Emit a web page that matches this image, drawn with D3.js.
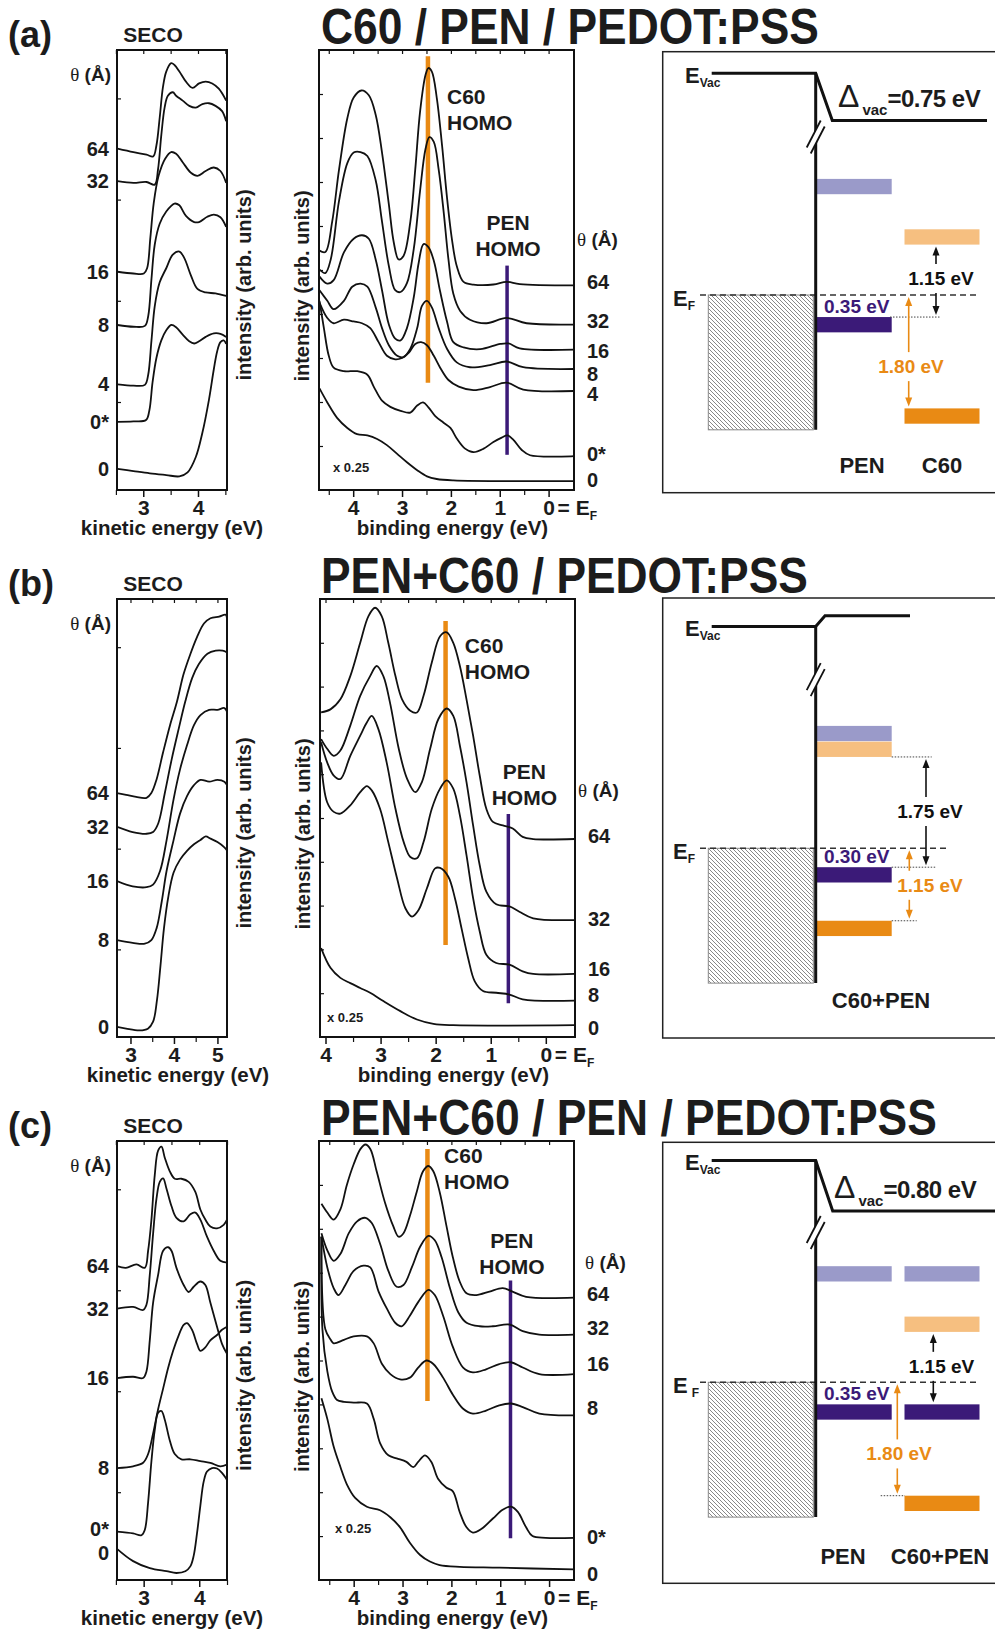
<!DOCTYPE html>
<html>
<head>
<meta charset="utf-8">
<title>SECO / UPS spectra and energy level diagrams</title>
<script src="https://cdn.jsdelivr.net/npm/d3@7/dist/d3.min.js"></script>
<style>
  body { margin: 0; background: #fff; }
  svg text { font-family: "Liberation Sans", Arial, Helvetica, sans-serif; font-weight: bold; fill: #1c1c1c; }
</style>
</head>
<body>
<script>
// ---------------- row (a): C60 / PEN / PEDOT:PSS ----------------
const thickA = ["64", "32", "16", "8", "4", "0*", "0"];
// SECO: [kinetic energy (eV), intensity (arb.)]
const secoA = [
  [[2.53,77.6],[2.82,76.8],[3.06,76.2],[3.18,75.8],[3.24,78.3],[3.30,84.6],[3.36,91.6],[3.42,95.1],[3.51,97.0],[3.57,96.6],[3.66,95.1],[3.78,92.8],[3.90,91.4],[4.02,92.4],[4.14,92.8],[4.26,92.4],[4.38,91.2],[4.515,88.5]],
  [[2.53,70.2],[2.82,69.8],[3.06,70.0],[3.21,69.4],[3.27,72.9],[3.33,80.7],[3.39,86.9],[3.45,89.6],[3.54,90.4],[3.60,89.6],[3.72,88.5],[3.84,87.3],[3.96,86.9],[4.08,87.7],[4.20,87.9],[4.32,87.3],[4.44,86.1],[4.515,83.8]],
  [[2.53,49.6],[2.82,49.2],[3.01,49.2],[3.07,50.4],[3.13,57.4],[3.19,65.1],[3.28,71.4],[3.40,75.3],[3.51,76.8],[3.60,76.4],[3.72,74.5],[3.87,72.1],[3.99,71.4],[4.14,72.5],[4.29,73.3],[4.41,72.5],[4.515,69.8]],
  [[2.53,37.5],[2.82,37.1],[3.03,37.3],[3.09,39.5],[3.15,48.0],[3.21,55.8],[3.30,60.5],[3.42,63.3],[3.57,65.1],[3.66,64.7],[3.78,62.3],[3.93,60.9],[4.02,60.9],[4.17,62.1],[4.29,62.6],[4.41,62.0],[4.515,59.8]],
  [[2.53,24.0],[2.82,23.7],[3.03,23.9],[3.09,26.2],[3.15,34.0],[3.21,41.8],[3.30,47.2],[3.42,50.4],[3.54,53.5],[3.66,54.2],[3.75,52.7],[3.87,48.8],[3.99,45.7],[4.14,44.9],[4.32,44.7],[4.515,44.1]],
  [[2.53,15.5],[2.82,15.6],[3.05,15.9],[3.11,18.0],[3.17,24.5],[3.24,30.0],[3.33,34.0],[3.42,36.3],[3.51,37.5],[3.60,37.0],[3.72,35.3],[3.84,33.8],[3.93,33.3],[4.02,33.8],[4.14,34.8],[4.29,35.6],[4.41,35.5],[4.515,34.8]],
  [[2.53,4.8],[2.82,4.3],[3.12,3.8],[3.42,3.4],[3.66,3.1],[3.81,4.0],[3.96,7.5],[4.08,13.0],[4.20,20.5],[4.29,27.5],[4.35,31.5],[4.41,33.6],[4.47,34.0],[4.515,33.2]]
];
// UPS: [binding energy (eV), intensity (arb.)]
const upsA = [
  [[4.69,54.4],[4.57,54.1],[4.43,61.0],[4.29,72.8],[4.12,84.5],[3.99,89.2],[3.83,90.8],[3.68,89.7],[3.54,85.3],[3.41,76.7],[3.27,64.9],[3.17,56.3],[3.07,52.4],[2.97,53.2],[2.83,61.0],[2.73,72.8],[2.63,86.1],[2.52,94.3],[2.46,95.9],[2.39,95.1],[2.29,89.2],[2.18,78.2],[2.08,66.5],[1.98,57.1],[1.88,50.9],[1.74,47.3],[1.54,46.7],[1.13,46.7],[0.86,47.3],[0.59,46.8],[-0.52,46.5]],
  [[4.69,50.1],[4.57,49.3],[4.46,52.4],[4.29,65.7],[4.12,74.3],[3.99,76.7],[3.85,76.8],[3.71,75.9],[3.54,70.4],[3.41,61.0],[3.27,50.9],[3.14,45.4],[3.03,45.0],[2.90,47.0],[2.76,54.8],[2.63,68.1],[2.52,77.5],[2.44,80.2],[2.35,79.1],[2.25,72.8],[2.15,63.4],[2.05,52.4],[1.95,44.6],[1.81,40.7],[1.61,38.7],[1.27,37.9],[0.86,39.1],[0.45,37.9],[-0.52,37.6]],
  [[4.69,48.5],[4.53,46.9],[4.40,47.7],[4.19,54.0],[3.99,57.1],[3.82,57.9],[3.68,57.1],[3.54,52.4],[3.41,45.4],[3.27,37.6],[3.14,34.4],[3.03,34.0],[2.90,36.8],[2.76,43.8],[2.66,51.6],[2.56,55.9],[2.46,55.2],[2.35,52.1],[2.22,45.1],[2.08,38.3],[1.95,33.6],[1.74,32.4],[1.40,32.0],[0.99,33.2],[0.82,33.3],[0.59,32.2],[-0.52,31.9]],
  [[4.69,45.4],[4.53,43.0],[4.40,41.1],[4.19,43.0],[4.02,46.2],[3.85,46.9],[3.71,46.2],[3.54,41.5],[3.41,36.8],[3.27,32.9],[3.10,30.5],[2.97,30.2],[2.83,32.1],[2.69,36.8],[2.59,41.9],[2.49,43.0],[2.39,41.5],[2.25,36.8],[2.08,32.1],[1.88,29.0],[1.61,27.9],[1.20,28.4],[0.86,29.2],[0.52,27.9],[-0.52,27.5]],
  [[4.69,42.6],[4.53,39.1],[4.40,37.9],[4.19,38.7],[3.99,38.3],[3.82,37.9],[3.65,36.8],[3.48,33.6],[3.31,30.5],[3.14,29.7],[3.00,30.0],[2.86,31.2],[2.73,33.2],[2.61,33.6],[2.49,32.9],[2.35,30.5],[2.22,27.8],[2.05,25.0],[1.84,23.5],[1.54,22.7],[1.20,23.4],[0.86,24.4],[0.52,22.8],[-0.52,22.5]],
  [[4.69,43.0],[4.60,36.8],[4.50,30.5],[4.40,27.8],[4.19,27.0],[3.92,27.0],[3.71,26.2],[3.58,23.5],[3.41,20.3],[3.24,18.9],[3.03,18.0],[2.83,17.6],[2.69,19.2],[2.57,19.9],[2.46,18.8],[2.32,16.8],[2.15,15.3],[2.01,14.1],[1.88,11.7],[1.71,9.4],[1.54,8.6],[1.33,9.4],[1.13,10.9],[0.96,11.9],[0.84,12.4],[0.72,11.4],[0.55,9.1],[0.38,7.9],[-0.52,7.7]],
  [[4.69,23.1],[4.53,19.9],[4.33,16.4],[4.12,14.1],[3.92,12.7],[3.71,12.4],[3.51,11.6],[3.31,10.2],[3.10,8.2],[2.90,6.3],[2.69,4.5],[2.49,3.1],[2.29,2.5],[1.95,2.2],[-0.52,2.0]]
];
const upsLabelA = [47.3, 38.3, 31.7, 26.4, 21.9, 8.2, 2.3];
const c60HomoA = [2.47, 24.4, 98.6];   // energy, from, to
const penHomoA = [0.85, 8.0, 51.0];
// energy diagram: [level, column, energy vs E_F (eV)]
const levelsA = [["PEN LUMO", 0, 1.60], ["PEN HOMO", 0, -0.35], ["C60 LUMO", 1, 0.80], ["C60 HOMO", 1, -1.80]];
const vacA = [3.52, 2.77];                         // left / right vacuum level (axis broken)
const gapsA = [[0.80, -0.35, 1.15], [0.00, -1.80, 1.80]]; // from, to, value

// ---------------- row (b): PEN+C60 / PEDOT:PSS ----------------
const thickB = ["64", "32", "16", "8", "0"];
const secoB = [
  [[2.69,55.7],[2.90,55.3],[3.13,54.8],[3.37,54.6],[3.48,55.7],[3.60,58.8],[3.75,65.0],[3.91,71.2],[4.07,76.6],[4.22,82.8],[4.38,87.5],[4.53,91.3],[4.69,94.4],[4.84,95.6],[5.04,96.0],[5.19,96.4],[5.22,95.2]],
  [[2.69,48.0],[3.05,46.8],[3.37,46.4],[3.52,46.8],[3.64,48.8],[3.79,55.7],[3.95,63.5],[4.11,70.4],[4.26,76.6],[4.42,82.0],[4.57,85.1],[4.77,87.5],[4.96,88.2],[5.12,88.2],[5.22,87.8]],
  [[2.69,35.6],[3.05,34.4],[3.37,34.2],[3.52,34.8],[3.68,37.9],[3.83,44.9],[3.99,54.2],[4.14,61.1],[4.30,66.6],[4.46,71.2],[4.61,73.5],[4.81,74.7],[5.00,74.7],[5.16,75.1],[5.22,74.3]],
  [[2.69,22.1],[3.05,21.5],[3.33,21.3],[3.48,22.1],[3.60,24.8],[3.72,31.0],[3.83,37.9],[3.99,44.9],[4.14,51.0],[4.30,55.0],[4.46,57.5],[4.61,58.7],[4.81,58.3],[5.00,58.7],[5.16,58.3],[5.22,57.5]],
  [[2.69,2.3],[2.90,1.9],[3.21,1.5],[3.40,1.9],[3.52,3.5],[3.61,8.5],[3.69,16.3],[3.77,24.8],[3.87,32.0],[3.99,37.5],[4.14,40.5],[4.30,42.5],[4.46,44.0],[4.61,45.0],[4.73,45.8],[4.84,45.3],[5.00,44.5],[5.16,43.3],[5.22,42.6]]
];
const upsB = [
  [[4.08,74.1],[3.91,74.8],[3.73,77.1],[3.55,82.4],[3.37,90.0],[3.22,96.1],[3.10,98.0],[2.98,96.1],[2.86,90.0],[2.73,82.4],[2.61,77.1],[2.46,74.5],[2.34,74.1],[2.22,77.9],[2.07,85.5],[1.92,91.5],[1.80,92.4],[1.68,90.0],[1.56,84.7],[1.44,77.1],[1.32,68.8],[1.20,59.7],[1.08,52.1],[0.96,49.1],[0.78,48.3],[0.60,47.6],[0.42,45.7],[0.23,45.2],[-0.52,45.2]],
  [[4.08,68.0],[3.97,65.8],[3.85,64.2],[3.73,65.4],[3.55,71.1],[3.37,77.9],[3.19,82.4],[3.07,84.7],[2.95,82.4],[2.83,76.4],[2.67,65.8],[2.52,59.0],[2.37,55.9],[2.25,58.2],[2.10,65.8],[1.95,72.6],[1.80,75.0],[1.68,73.3],[1.56,66.5],[1.44,58.2],[1.32,48.3],[1.20,39.2],[1.08,33.2],[0.90,30.3],[0.66,29.8],[0.48,28.6],[0.23,27.1],[-0.52,26.7]],
  [[4.08,67.3],[3.97,62.7],[3.85,59.7],[3.73,58.9],[3.55,64.2],[3.37,68.8],[3.25,71.8],[3.16,73.3],[3.04,70.3],[2.89,62.7],[2.73,52.1],[2.58,44.5],[2.46,41.1],[2.34,40.8],[2.22,44.5],[2.07,52.1],[1.92,56.7],[1.80,58.6],[1.68,56.7],[1.56,50.6],[1.44,41.5],[1.32,31.7],[1.20,24.1],[1.08,18.8],[0.90,16.9],[0.66,16.5],[0.42,15.0],[0.23,14.4],[-0.52,14.4]],
  [[4.08,62.7],[3.97,53.6],[3.85,51.4],[3.73,51.0],[3.55,52.9],[3.37,55.9],[3.25,57.3],[3.16,56.3],[3.01,52.1],[2.86,44.5],[2.70,36.2],[2.55,29.4],[2.43,27.5],[2.31,29.0],[2.16,33.9],[2.01,38.5],[1.92,38.6],[1.77,36.6],[1.65,31.7],[1.53,24.8],[1.41,18.0],[1.29,12.7],[1.14,10.5],[0.90,10.1],[0.66,9.7],[0.42,8.6],[-0.52,8.3]],
  [[4.08,20.3],[3.91,15.8],[3.73,13.5],[3.55,12.3],[3.37,11.2],[3.19,10.1],[2.95,8.2],[2.64,5.9],[2.34,4.0],[2.04,3.0],[1.68,2.7],[-0.52,2.7]]
];
const upsLabelB = [46.0, 27.0, 15.5, 9.7, 2.1];
const c60HomoB = [1.82, 21.0, 95.0];
const penHomoB = [0.68, 7.7, 50.9];
const levelsB = [["PEN LUMO", 0, 1.70], ["C60 LUMO", 0, 1.45], ["PEN HOMO", 0, -0.30], ["C60 HOMO", 0, -1.15]];
const vacB = [3.52, 3.69];
const gapsB = [[1.45, -0.30, 1.75], [0.00, -1.15, 1.15]];

// ---------------- row (c): PEN+C60 / PEN / PEDOT:PSS ----------------
const thickC = ["64", "32", "16", "8", "0*", "0"];
const secoC = [
  [[2.52,71.5],[2.68,71.1],[2.87,71.9],[3.02,71.1],[3.08,75.0],[3.14,82.1],[3.20,92.3],[3.26,97.8],[3.32,98.7],[3.38,96.2],[3.47,93.1],[3.56,91.4],[3.68,91.4],[3.81,90.7],[3.93,88.4],[4.02,84.4],[4.11,82.1],[4.20,80.5],[4.32,80.1],[4.44,80.9],[4.50,82.1]],
  [[2.52,61.8],[2.81,62.2],[2.99,61.5],[3.05,62.7],[3.11,69.5],[3.17,78.9],[3.23,86.8],[3.29,90.7],[3.35,91.5],[3.41,89.2],[3.50,85.2],[3.59,82.5],[3.72,81.7],[3.84,83.3],[3.93,83.7],[4.02,82.1],[4.14,78.2],[4.26,75.0],[4.38,72.7],[4.50,72.3]],
  [[2.52,46.0],[2.81,46.3],[2.99,46.0],[3.05,47.5],[3.11,54.6],[3.17,63.2],[3.26,69.5],[3.35,75.0],[3.44,75.8],[3.50,75.0],[3.59,71.1],[3.72,67.2],[3.81,65.6],[3.90,66.8],[4.02,68.0],[4.11,67.2],[4.20,63.2],[4.32,57.7],[4.41,53.8],[4.50,51.5]],
  [[2.52,25.5],[2.81,25.9],[2.99,26.7],[3.08,28.7],[3.17,33.4],[3.26,38.9],[3.35,43.6],[3.44,48.3],[3.53,52.2],[3.62,55.4],[3.72,58.1],[3.78,58.5],[3.87,57.0],[3.96,53.8],[4.02,52.2],[4.11,53.0],[4.20,54.6],[4.32,55.8],[4.41,57.0],[4.50,57.7]],
  [[2.52,11.0],[2.81,10.6],[2.96,10.2],[3.02,11.4],[3.08,17.7],[3.14,27.1],[3.20,34.2],[3.26,38.1],[3.32,38.5],[3.38,36.5],[3.47,31.8],[3.56,28.7],[3.68,27.5],[3.84,27.5],[4.02,27.1],[4.20,26.7],[4.38,25.9],[4.50,26.3]],
  [[2.52,7.1],[2.81,4.3],[3.11,2.7],[3.41,2.0],[3.59,1.6],[3.75,2.0],[3.84,3.1],[3.90,5.5],[3.96,10.6],[4.02,16.9],[4.08,22.4],[4.14,24.7],[4.23,25.5],[4.32,25.4],[4.41,24.4],[4.50,22.8]]
];
const secoLabelC = [71.5, 61.8, 46.0, 25.5, 11.6, 6.2];
const upsC = [
  [[4.66,85.7],[4.54,83.7],[4.41,82.1],[4.27,84.5],[4.14,90.0],[4.00,94.7],[3.86,98.2],[3.76,99.2],[3.66,98.2],[3.53,93.1],[3.36,86.0],[3.19,80.6],[3.08,78.2],[2.98,79.0],[2.85,82.9],[2.71,88.4],[2.58,93.1],[2.47,94.3],[2.37,93.1],[2.24,88.4],[2.10,80.6],[1.97,73.5],[1.83,68.0],[1.69,65.3],[1.49,64.9],[1.22,65.7],[0.95,66.5],[0.75,65.7],[0.47,64.5],[-0.51,64.3]],
  [[4.66,79.0],[4.54,75.1],[4.41,72.7],[4.27,74.3],[4.10,79.0],[3.93,81.7],[3.76,82.5],[3.63,81.3],[3.46,76.6],[3.29,70.4],[3.12,66.8],[2.98,67.2],[2.81,71.2],[2.64,75.9],[2.47,78.4],[2.34,77.4],[2.20,73.5],[2.03,66.5],[1.86,61.0],[1.69,58.6],[1.42,57.8],[1.15,57.8],[0.81,58.2],[0.54,56.7],[0.20,55.9],[-0.51,55.9]],
  [[4.66,78.2],[4.54,71.2],[4.41,66.5],[4.31,64.9],[4.17,67.2],[4.00,70.4],[3.80,71.6],[3.66,71.2],[3.49,65.7],[3.32,61.8],[3.15,58.6],[3.02,57.8],[2.85,60.2],[2.68,63.3],[2.47,66.1],[2.34,64.9],[2.17,60.2],[1.97,53.1],[1.76,48.4],[1.56,47.3],[1.29,48.0],[1.02,49.2],[0.78,49.6],[0.54,48.4],[0.20,46.9],[-0.51,46.9]],
  [[4.66,78.2],[4.58,57.1],[4.47,54.7],[4.41,53.9],[4.20,54.7],[4.00,55.5],[3.73,55.5],[3.59,53.9],[3.42,49.2],[3.25,46.9],[3.05,45.7],[2.85,46.1],[2.68,48.4],[2.51,50.0],[2.37,49.2],[2.17,46.1],[1.97,42.2],[1.76,39.0],[1.56,37.9],[1.29,38.6],[1.02,39.8],[0.78,40.2],[0.54,39.4],[0.20,37.9],[-0.51,37.5]],
  [[4.66,78.2],[4.64,57.1],[4.54,47.6],[4.44,42.9],[4.34,41.0],[4.20,40.6],[4.00,40.4],[3.73,40.2],[3.59,36.7],[3.46,31.2],[3.29,28.4],[3.12,27.7],[2.92,26.9],[2.78,25.7],[2.68,26.9],[2.54,28.4],[2.41,26.9],[2.27,23.0],[2.10,21.0],[1.97,20.2],[1.83,15.5],[1.69,12.0],[1.56,10.8],[1.39,11.6],[1.15,14.0],[0.95,16.0],[0.78,16.7],[0.64,15.5],[0.47,12.0],[0.34,10.0],[0.07,9.6],[-0.51,9.6]],
  [[4.66,41.4],[4.54,36.7],[4.41,30.4],[4.27,25.7],[4.14,21.8],[3.97,18.7],[3.73,16.7],[3.46,15.9],[3.25,14.3],[3.05,12.0],[2.85,8.5],[2.64,5.7],[2.44,4.2],[2.24,3.4],[1.83,3.0],[1.02,2.8],[-0.51,2.4]]
];
const upsLabelC = [65.2, 57.4, 49.2, 39.1, 9.7, 1.4];
const c60HomoC = [2.49, 40.8, 98.2];
const penHomoC = [0.79, 9.5, 68.2];
const levelsC = [["PEN LUMO", 0, 1.60], ["PEN HOMO", 0, -0.35], ["PEN LUMO", 1, 1.60], ["C60 LUMO", 1, 0.80], ["PEN HOMO", 1, -0.35], ["C60 HOMO", 1, -1.80]];
const vacC = [3.52, 2.72];
const gapsC = [[0.80, -0.35, 1.15], [0.00, -1.80, 1.80]];

// ---------------- drawing ----------------
const ORANGE = "#e98a14", PURPLE = "#3b1a78";
const LEVEL_COLOR = { "PEN LUMO": "#9a9ac9", "PEN HOMO": PURPLE, "C60 LUMO": "#f6bf80", "C60 HOMO": ORANGE };

const svg = d3.select("body").append("svg").attr("width", 995).attr("height", 1631);
const defs = svg.append("defs");
defs.append("pattern").attr("id", "hatch").attr("patternUnits", "userSpaceOnUse")
  .attr("width", 4).attr("height", 4)
  .append("path").attr("d", "M-1,-1L5,5M-1,3L1,5M3,-1L5,1")
  .attr("stroke", "#555").attr("stroke-width", 0.7);

function txt(g, x, y, str, size, anchor = "start") {
  return g.append("text").attr("x", x).attr("y", y).attr("font-size", size)
    .attr("text-anchor", anchor).text(str);
}

function theta(g, x, y, anchor) {
  const t = g.append("text").attr("x", x).attr("y", y).attr("font-size", 19).attr("text-anchor", anchor);
  t.append("tspan").style("font-family", "'Liberation Serif', 'DejaVu Serif', serif")
    .style("font-weight", "normal").text("θ");
  t.append("tspan").text(" (Å)");
}

function rotLabel(g, x, y, str) {
  g.append("text").attr("transform", `translate(${x},${y}) rotate(-90)`)
    .attr("text-anchor", "middle").attr("dy", "0.36em").attr("font-size", 20).text(str);
}

// plain tick marks (no labels)
function ticks(g, axis, at) {
  const a = g.append("g").attr("transform", at).call(axis);
  a.select(".domain").remove();
  a.selectAll("text").remove();
  a.selectAll("line").attr("stroke", "#111").attr("stroke-width", 1.2);
}

let clipN = 0;
function spectrum(o) {
  const x = d3.scaleLinear().domain(o.xDomain).range([o.left, o.right]);
  const y = d3.scaleLinear().domain([0, 100]).range([o.bottom, o.top]);
  const g = svg.append("g");
  const id = "clip" + clipN++;
  defs.append("clipPath").attr("id", id).append("rect")
    .attr("x", o.left).attr("y", o.top).attr("width", o.right - o.left).attr("height", o.bottom - o.top);
  const plot = g.append("g").attr("clip-path", `url(#${id})`);

  // HOMO guide bars
  (o.guides || []).forEach(([d, color, w]) => {
    plot.append("line").attr("x1", x(d[0])).attr("x2", x(d[0]))
      .attr("y1", y(d[1])).attr("y2", y(d[2]))
      .attr("stroke", color).attr("stroke-width", w);
  });

  const line = d3.line().x(d => x(d[0])).y(d => y(d[1])).curve(d3.curveCatmullRom.alpha(0.5));
  plot.selectAll("path.spec").data(o.curves).join("path").attr("class", "spec")
    .attr("d", line).attr("fill", "none").attr("stroke", "#111").attr("stroke-width", 1.8)
    .attr("stroke-linejoin", "round");

  // axes
  const bottom = g.append("g").attr("transform", `translate(0,${o.bottom})`)
    .call(d3.axisBottom(x).tickValues(o.major).tickSize(7).tickPadding(3).tickFormat(d3.format("d")));
  bottom.attr("font-size", 21);
  bottom.select(".domain").remove();
  bottom.selectAll("line").attr("stroke", "#111").attr("stroke-width", 1.5);
  ticks(g, d3.axisBottom(x).tickValues(o.minor).tickSize(5), `translate(0,${o.bottom})`);
  ticks(g, d3.axisTop(x).tickValues(o.major.concat(o.minor)).tickSize(-4), `translate(0,${o.top})`);
  ticks(g, d3.axisLeft(y).tickValues(o.yTicks).tickSize(-4), `translate(${o.left},0)`);

  if (o.fermi) {
    const t = txt(g, x(0) + 9, o.bottom + 25, "= E", 21);
    t.append("tspan").attr("font-size", 12).attr("dy", 5).text("F");
  }

  g.append("rect").attr("x", o.left).attr("y", o.top)
    .attr("width", o.right - o.left).attr("height", o.bottom - o.top)
    .attr("fill", "none").attr("stroke", "#111").attr("stroke-width", 2);

  txt(g, (o.left + o.right) / 2 + o.xLabelShift, o.bottom + 45, o.xLabel, 20.5, "middle");

  // thickness labels
  if (o.side === "left") {
    const at = o.labelAt || o.curves.map(c => c[0][1]);
    o.names.forEach((n, i) => txt(g, o.left - 8, y(at[i]) + 7, n, 20, "end"));
    theta(g, o.left - 6, o.top + 31, "end");
    txt(g, (o.left + o.right) / 2 - 19, o.top - 8, "SECO", 21, "middle");
    rotLabel(g, o.right + 17, (o.top + o.bottom) / 2 + 15, "intensity (arb. units)");
  } else {
    o.names.forEach((n, i) => txt(g, o.right + 13, y(o.labelAt[i]) + 7, n, 20));
    theta(g, o.right + o.thetaDx, y(o.thetaAt), "start");
    rotLabel(g, o.left - 17, (o.top + o.bottom) / 2 + 16, "intensity (arb. units)");
    txt(g, o.left + o.scaleDx, y(o.scaleAt), "x 0.25", 13);
    const [c60E, c60V] = o.c60Label, [penE, penV] = o.penLabel;
    txt(g, x(c60E), y(c60V), "C60", 21);
    txt(g, x(c60E), y(c60V) + 26, "HOMO", 21);
    txt(g, x(penE), y(penV), "PEN", 21, "middle");
    txt(g, x(penE), y(penV) + 26, "HOMO", 21, "middle");
  }
}

// energy level diagram
const DIAG = { left: 662.7, hatch: [708.3, 813.3], metalX: 815.7, cols: [[817, 891.7], [904.5, 979.5]],
  vacX0: 711.7, efX0: 700, pxPerEv: 63, bar: 15.3, metalBottom: -2.14 };

function arrow(g, x, y0, y1, color) {
  const dir = Math.sign(y1 - y0);
  g.append("line").attr("x1", x).attr("x2", x).attr("y1", y0).attr("y2", y1 - dir * 8)
    .attr("stroke", color).attr("stroke-width", 1.6);
  g.append("path").attr("d", `M${x - 3.5},${y1 - dir * 9}L${x + 3.5},${y1 - dir * 9}L${x},${y1}Z`).attr("fill", color);
}

function diagram(o) {
  const L = DIAG;
  const y = d3.scaleLinear().domain([0, 1]).range([o.efY, o.efY - L.pxPerEv]);
  const g = svg.append("g");

  g.append("rect").attr("x", L.left).attr("y", o.top).attr("width", 400).attr("height", o.bottom - o.top)
    .attr("fill", "none").attr("stroke", "#222").attr("stroke-width", 1.5);

  // filled states of the electrode
  g.append("rect").attr("x", L.hatch[0]).attr("y", y(0))
    .attr("width", L.hatch[1] - L.hatch[0]).attr("height", y(L.metalBottom) - y(0))
    .attr("fill", "url(#hatch)").attr("stroke", "#888").attr("stroke-width", 1);

  // Fermi level
  g.append("line").attr("x1", L.efX0).attr("x2", o.efX1).attr("y1", y(0)).attr("y2", y(0))
    .attr("stroke", "#333").attr("stroke-width", 1.4).attr("stroke-dasharray", "6,4");

  // molecular levels
  g.selectAll("rect.level").data(o.levels).join("rect").attr("class", "level")
    .attr("x", d => L.cols[d[1]][0]).attr("width", d => L.cols[d[1]][1] - L.cols[d[1]][0])
    .attr("y", d => d[0].endsWith("HOMO") ? y(d[2]) : y(d[2]) - L.bar)
    .attr("height", L.bar).attr("fill", d => LEVEL_COLOR[d[0]]);

  // dotted guides
  o.dots.forEach(([e, x0, x1]) => {
    g.append("line").attr("x1", x0).attr("x2", x1).attr("y1", y(e)).attr("y2", y(e))
      .attr("stroke", "#444").attr("stroke-width", 1).attr("stroke-dasharray", "1.5,1.5");
  });

  // vacuum level and interface
  const [vl, vr] = o.vac;
  g.append("path").attr("d", `M${L.vacX0},${y(vl)}L${L.metalX},${y(vl)}L${o.vacSlopeX},${y(vr)}L${o.vacX1},${y(vr)}`)
    .attr("fill", "none").attr("stroke", "#111").attr("stroke-width", 3).attr("stroke-linejoin", "miter");
  g.append("line").attr("x1", L.metalX).attr("x2", L.metalX).attr("y1", y(vl)).attr("y2", y(L.metalBottom))
    .attr("stroke", "#111").attr("stroke-width", 3);
  // axis break
  const yb = y(o.breakE);
  g.append("path").attr("d", `M${L.metalX - 9},${yb + 10}L${L.metalX + 5},${yb - 17}L${L.metalX + 9},${yb - 11}L${L.metalX - 5},${yb + 16}Z`)
    .attr("fill", "#fff");
  [[-9, 10, 5, -17], [-5, 16, 9, -11]].forEach(([a, b, c, d]) => {
    g.append("line").attr("x1", L.metalX + a).attr("y1", yb + b).attr("x2", L.metalX + c).attr("y2", yb + d)
      .attr("stroke", "#111").attr("stroke-width", 1.8);
  });

  // level labels
  const ev = txt(g, 685, y(vl) + 9.5, "E", 22);
  ev.append("tspan").attr("font-size", 12).attr("dy", 4).text("Vac");
  const ef = txt(g, 673, y(0) + 10.5, "E", 22);
  ef.append("tspan").attr("font-size", 12).attr("dx", o.efGap).attr("dy", 4).text("F");

  if (o.deltaX) {
    const d = g.append("text").attr("x", o.deltaX).attr("y", y(vr) - 13);
    d.append("tspan").attr("font-size", 32).style("font-weight", "normal").text("Δ");
    d.append("tspan").attr("font-size", 15).attr("dx", 3).attr("dy", 8).text("vac");
    d.append("tspan").attr("font-size", 24).attr("dy", -8).attr("letter-spacing", -0.5)
      .text("=" + d3.format(".2f")(vl - vr) + " eV");
  }

  const penHomo = o.levels.find(d => d[0] === "PEN HOMO")[2];
  txt(g, 824, y(penHomo) - 4, d3.format(".2f")(-penHomo) + " eV", 19).style("fill", PURPLE);

  // energy gaps
  o.gaps.forEach(([from, to, val], i) => {
    const [ax, lx, at] = o.gapLayout[i];
    const color = i === 0 ? "#111" : ORANGE;
    const b = y(at);
    arrow(g, ax, b - 21, y(from) + 2, color);
    arrow(g, ax, b + 8, y(to) - 2, color);
    txt(g, lx, b, d3.format(".2f")(val) + " eV", 19, "middle").style("fill", color);
  });

  o.species.forEach(([name, cx]) => txt(g, cx, o.speciesY, name, 22, "middle"));
}

// titles (condensed bold face), panel tags
function rowHeader(top, tag, title, width) {
  const g = svg.append("g");
  txt(g, 8, top - 3, tag, 36);
  const t = g.append("text").attr("font-size", 50).text(title);
  const natural = t.node().getComputedTextLength();
  t.attr("transform", `translate(321,${top - 6}) scale(${width / natural},1)`);
}

const secoTicks = [20, 43, 66, 89];
const upsTicks = [10, 20, 30, 40, 50, 60, 70, 80, 90];

// ---- row (a)
rowHeader(50, "(a)", "C60 / PEN / PEDOT:PSS", 498);
spectrum({ side: "left", curves: secoA, names: thickA, xDomain: [2.52, 4.53], left: 117, right: 227, top: 50, bottom: 490,
  major: [3, 4], minor: [2.5, 3.5, 4.5], yTicks: secoTicks, xLabel: "kinetic energy (eV)", xLabelShift: 0 });
spectrum({ side: "right", curves: upsA, names: thickA, labelAt: upsLabelA, xDomain: [4.70, -0.52], left: 319, right: 574, top: 50, bottom: 490,
  major: [4, 3, 2, 1, 0], minor: [4.5, 3.5, 2.5, 1.5, 0.5], yTicks: upsTicks, fermi: true,
  xLabel: "binding energy (eV)", xLabelShift: 6, thetaDx: 3, thetaAt: 55.5, scaleDx: 14, scaleAt: 4.0,
  guides: [[c60HomoA, ORANGE, 4.5], [penHomoA, PURPLE, 3.5]], c60Label: [2.08, 87.8], penLabel: [0.83, 59.0] });
diagram({ top: 51.7, bottom: 492.7, efY: 295, efX1: 978, levels: levelsA, vac: vacA, vacSlopeX: 832.3, vacX1: 987,
  breakE: 2.5, efGap: 0, deltaX: 838, gaps: gapsA, gapLayout: [[936, 941, 0.16], [908.7, 911, -1.24]],
  dots: [[-0.35, 890, 940]], species: [["PEN", 862], ["C60", 942]], speciesY: 473 });

// ---- row (b)
rowHeader(599, "(b)", "PEN+C60 / PEDOT:PSS", 487);
spectrum({ side: "left", curves: secoB, names: thickB, xDomain: [2.69, 5.22], left: 117, right: 227, top: 599, bottom: 1037,
  major: [3, 4, 5], minor: [3.5, 4.5], yTicks: secoTicks, xLabel: "kinetic energy (eV)", xLabelShift: 6 });
spectrum({ side: "right", curves: upsB, names: thickB, labelAt: upsLabelB, xDomain: [4.10, -0.53], left: 320, right: 575, top: 599, bottom: 1037,
  major: [4, 3, 2, 1, 0], minor: [3.5, 2.5, 1.5, 0.5], yTicks: upsTicks, fermi: true,
  xLabel: "binding energy (eV)", xLabelShift: 6, thetaDx: 3, thetaAt: 54.8, scaleDx: 7, scaleAt: 3.4,
  guides: [[c60HomoB, ORANGE, 4.5], [penHomoB, PURPLE, 3.5]], c60Label: [1.47, 87.6], penLabel: [0.39, 58.8] });
diagram({ top: 598, bottom: 1038, efY: 848.3, efX1: 947, levels: levelsB, vac: vacB, vacSlopeX: 825, vacX1: 910,
  breakE: 2.67, efGap: 0, deltaX: null, gaps: gapsB, gapLayout: [[926, 930, 0.48], [909.3, 930, -0.69]],
  dots: [[1.45, 891.7, 931.7], [-0.30, 891.7, 936], [-1.15, 891.7, 916.7]], species: [["C60+PEN", 881]], speciesY: 1008 });

// ---- row (c)
rowHeader(1141, "(c)", "PEN+C60 / PEN / PEDOT:PSS", 616);
spectrum({ side: "left", curves: secoC, names: thickC, labelAt: secoLabelC, xDomain: [2.52, 4.50], left: 117, right: 227, top: 1141, bottom: 1580,
  major: [3, 4], minor: [2.5, 3.5, 4.5], yTicks: secoTicks, xLabel: "kinetic energy (eV)", xLabelShift: 0 });
spectrum({ side: "right", curves: upsC, names: thickC, labelAt: upsLabelC, xDomain: [4.71, -0.51], left: 319, right: 574, top: 1141, bottom: 1580,
  major: [4, 3, 2, 1, 0], minor: [4.5, 3.5, 2.5, 1.5, 0.5], yTicks: upsTicks, fermi: true,
  xLabel: "binding energy (eV)", xLabelShift: 6, thetaDx: 11, thetaAt: 70.8, scaleDx: 16, scaleAt: 10.8,
  guides: [[c60HomoC, ORANGE, 4.5], [penHomoC, PURPLE, 3.5]], c60Label: [2.15, 94.9], penLabel: [0.76, 75.7] });
diagram({ top: 1142.3, bottom: 1583.3, efY: 1382.3, efX1: 978, levels: levelsC, vac: vacC, vacSlopeX: 832.7, vacX1: 1000,
  breakE: 2.37, efGap: 4, deltaX: 834, gaps: gapsC, gapLayout: [[933.3, 941.5, 0.15], [897.3, 899, -1.24]],
  dots: [[-1.80, 880.7, 905]], species: [["PEN", 843], ["C60+PEN", 940]], speciesY: 1564 });
</script>
</body>
</html>
